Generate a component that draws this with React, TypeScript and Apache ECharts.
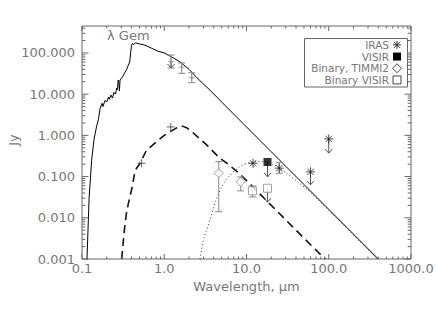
import React, { useEffect, useRef } from 'react';
import * as echarts from 'echarts';

const X_MIN = 0.1;
const X_MAX = 1000;
const Y_MIN = 0.001;
const Y_MAX = 450;

// lambda Gem primary spectrum (solid)
const starWave = [0.115, 0.122, 0.131, 0.14, 0.15, 0.158, 0.166, 0.175, 0.18, 0.19, 0.2, 0.21, 0.215, 0.225, 0.235, 0.245, 0.255, 0.265, 0.27, 0.275, 0.28, 0.285, 0.29, 0.31, 0.33, 0.35, 0.365, 0.38, 0.39, 0.4, 0.41, 0.42, 0.45, 0.5, 0.55, 0.6, 0.7, 0.84, 1.0, 1.3, 1.6, 2.0, 2.5, 3.0, 3.6, 5, 10, 20, 50, 100, 200, 400];
const starFlux = [0.001, 0.03, 0.25, 0.8, 1.6, 2.4, 4.5, 6, 5, 7, 6.5, 8.5, 7.5, 9.5, 8, 11, 10, 14, 13, 22, 20, 12, 22, 26, 33, 40, 50, 60, 100, 150, 170, 160, 175, 165, 160, 150, 130, 110, 100, 75, 58, 40, 25, 17.5, 12.5, 6.4, 1.6, 0.4, 0.064, 0.016, 0.004, 0.001];

// binary companion spectrum (dashed)
const compWave = [0.304, 0.324, 0.345, 0.366, 0.4, 0.44, 0.46, 0.5, 0.53, 0.61, 0.7, 0.81, 1.0, 1.18, 1.4, 1.63, 1.9, 2.16, 3.3, 4.55, 6, 8.3, 12, 20, 40, 90];
const compFlux = [0.001, 0.0042, 0.012, 0.022, 0.047, 0.13, 0.16, 0.2, 0.25, 0.44, 0.55, 0.71, 1.0, 1.23, 1.5, 1.7, 1.5, 1.23, 0.58, 0.3, 0.2, 0.115, 0.056, 0.02, 0.005, 0.001];

// dust emission (dotted)
const dustWave = [2.72, 3.0, 3.6, 4.2, 4.77, 5.5, 6.9, 8.5, 10, 13, 17.6, 22, 30.8, 40, 59, 94, 150, 250, 390];
const dustFlux = [0.001, 0.003, 0.009, 0.025, 0.047, 0.08, 0.13, 0.18, 0.21, 0.23, 0.23, 0.19, 0.12, 0.08, 0.043, 0.017, 0.0068, 0.0024, 0.001];

// photometry
const irasWave = [12, 25, 60, 100];
const irasFlux = [0.21, 0.16, 0.13, 0.82];
const visirWave = [18];
const visirFlux = [0.226];
const timmiWave = [4.6, 8.5];
const timmiFlux = [0.12, 0.074];
const binVisirWave = [11.8, 18];
const binVisirFlux = [0.045, 0.052];
const starPhotWave = [1.21, 1.63, 2.16];
const starPhotFlux = [62, 45, 25];
const compPlusWave = [0.53, 1.2];
const compPlusFlux = [0.21, 1.6];

// error bars: [wavelength, low, high]
const errorBars = [
  [25, 0.12, 0.217],
  [4.6, 0.014, 0.23],
  [8.5, 0.045, 0.098],
  [11.8, 0.032, 0.059],
  [1.21, 43, 89],
  [1.63, 32, 57],
  [2.16, 19, 33],
];
// upper limits: [wavelength, from, to]
const upperLimits = [
  [60, 0.13, 0.063],
  [100, 0.82, 0.37],
  [18, 0.226, 0.098],
  [18, 0.052, 0.024],
  [1.21, 62, 43],
];

const legendLabels = ['IRAS', 'VISIR', 'Binary, TIMMI2', 'Binary VISIR'];

const zip = (a: number[], b: number[]) => a.map((v, i) => [v, b[i]]);

const AXIS_COLOR = '#666';
const TEXT_COLOR = '#777';
const FONT = 'DejaVu Sans';

const ASTERISK = 'path://M5,0L5,10M0,5L10,5M1.5,1.5L8.5,8.5M1.5,8.5L8.5,1.5';

function buildTicks() {
  const xt: number[][] = [];
  for (let e = -1; e <= 3; e++) {
    for (let m = 1; m <= 9; m++) {
      const v = m * Math.pow(10, e);
      if (v > X_MAX * 1.0001) break;
      xt.push([v, Y_MIN, m === 1 ? 1 : 0]);
    }
  }
  const yt: number[][] = [];
  for (let e = -3; e <= 2; e++) {
    for (let m = 1; m <= 9; m++) {
      const v = m * Math.pow(10, e);
      if (v > Y_MAX) break;
      yt.push([X_MIN, v, m === 1 ? 1 : 0]);
    }
  }
  return { xt, yt };
}

export default function App() {
  const ref = useRef<HTMLDivElement>(null);
  useEffect(() => {
    if (!ref.current) return;
    const chart = echarts.init(ref.current, null, { renderer: 'svg' });
    const { xt, yt } = buildTicks();
    const grey = '#888';

    const legendX = 389;
    const symX = 397;
    const legendTop = 39;
    const rowH = 11.7;
    const rowY = legendLabels.map((_, i) => legendTop + rowH * i + rowH / 2);

    const lineSt = { stroke: '#333', lineWidth: 1 };
    const asteriskLines = (cx: number, cy: number) => [
      { type: 'line', z: 102, shape: { x1: cx, y1: cy - 4, x2: cx, y2: cy + 4 }, style: lineSt },
      { type: 'line', z: 102, shape: { x1: cx - 4, y1: cy, x2: cx + 4, y2: cy }, style: lineSt },
      { type: 'line', z: 102, shape: { x1: cx - 3, y1: cy - 3, x2: cx + 3, y2: cy + 3 }, style: lineSt },
      { type: 'line', z: 102, shape: { x1: cx - 3, y1: cy + 3, x2: cx + 3, y2: cy - 3 }, style: lineSt },
    ];

    const option: any = {
      animation: false,
      backgroundColor: '#fff',
      grid: { left: 82, top: 26, width: 329, height: 233, show: true, borderColor: AXIS_COLOR, borderWidth: 1, backgroundColor: 'transparent', outerBoundsMode: 'none', containLabel: false },
      xAxis: {
        type: 'log', logBase: 10, min: X_MIN, max: X_MAX, interval: 1,
        axisLine: { show: false }, axisTick: { show: false }, splitLine: { show: false }, minorTick: { show: false },
        axisLabel: { color: TEXT_COLOR, fontFamily: FONT, fontSize: 13, margin: 3, showMinLabel: true, showMaxLabel: true,
          formatter: (v: number) => v.toFixed(1) },
        name: 'Wavelength, μm', nameLocation: 'middle', nameGap: 14,
        nameTextStyle: { color: TEXT_COLOR, fontFamily: FONT, fontSize: 13 },
      },
      yAxis: {
        type: 'log', logBase: 10, min: Y_MIN, max: Y_MAX, interval: 1,
        axisLine: { show: false }, axisTick: { show: false }, splitLine: { show: false },
        axisLabel: { color: TEXT_COLOR, fontFamily: FONT, fontSize: 13, margin: 7, showMaxLabel: false,
          formatter: (v: number) => {
            const l = Math.log10(v);
            return Math.abs(l - Math.round(l)) < 1e-6 ? v.toFixed(3) : '';
          } },
      },
      graphic: [
        { type: 'text', x: 13, y: 140, rotation: Math.PI / 2,
          style: { text: 'Jy', fill: TEXT_COLOR, font: `13px ${FONT}`, align: 'center', verticalAlign: 'middle' } },
        { type: 'text', left: 107, top: 29, style: { text: 'λ Gem', fill: TEXT_COLOR, font: `13px ${FONT}` } },
        { type: 'rect', shape: { x: 304.5, y: 38.5, width: 103, height: 48.5 }, style: { fill: '#fff', stroke: AXIS_COLOR, lineWidth: 1 }, z: 100 },
        {
          type: 'text', x: legendX, y: legendTop, z: 101,
          style: { text: legendLabels.join('\n'), fill: TEXT_COLOR, font: `10.5px ${FONT}`, lineHeight: rowH, align: 'right', verticalAlign: 'top' },
        },
        ...asteriskLines(symX, rowY[0]),
        { type: 'rect', z: 101, shape: { x: symX - 4, y: rowY[1] - 4, width: 8, height: 8 }, style: { fill: '#000' } },
        { type: 'polygon', z: 101, shape: { points: [[symX, rowY[2] - 4.5], [symX + 4.5, rowY[2]], [symX, rowY[2] + 4.5], [symX - 4.5, rowY[2]]] }, style: { fill: 'none', stroke: '#444', lineWidth: 1 } },
        { type: 'rect', z: 101, shape: { x: symX - 4, y: rowY[3] - 4, width: 8, height: 8 }, style: { fill: 'none', stroke: '#444', lineWidth: 1 } },
      ],
      series: [
        {
          type: 'line', data: zip(starWave, starFlux), showSymbol: false, symbol: 'none',
          lineStyle: { color: '#000', width: 1 }, z: 3,
        },
        {
          type: 'line', data: zip(compWave, compFlux), showSymbol: false, symbol: 'none',
          lineStyle: { color: '#111', width: 1.6, type: [8, 5] }, z: 3,
        },
        {
          type: 'line', data: zip(dustWave, dustFlux), showSymbol: false, symbol: 'none',
          lineStyle: { color: '#333', width: 1, type: [1, 2.5] }, z: 3,
        },
        {
          type: 'custom', data: errorBars, encode: { x: 0, y: 1 }, z: 4, clip: false,
          renderItem: (params: any, api: any) => {
            const x = api.value(0);
            const a = api.coord([x, api.value(1)]);
            const b = api.coord([x, api.value(2)]);
            const st = { stroke: grey, lineWidth: 1 };
            const w = 3.5;
            return {
              type: 'group', children: [
                { type: 'line', shape: { x1: a[0], y1: a[1], x2: b[0], y2: b[1] }, style: st },
                { type: 'line', shape: { x1: a[0] - w, y1: a[1], x2: a[0] + w, y2: a[1] }, style: st },
                { type: 'line', shape: { x1: b[0] - w, y1: b[1], x2: b[0] + w, y2: b[1] }, style: st },
              ],
            };
          },
        },
        {
          type: 'custom', data: upperLimits, encode: { x: 0, y: 1 }, z: 4, clip: false,
          renderItem: (params: any, api: any) => {
            const x = api.value(0);
            const a = api.coord([x, api.value(1)]);
            const b = api.coord([x, api.value(2)]);
            const st = { stroke: '#555', lineWidth: 1 };
            return {
              type: 'group', children: [
                { type: 'line', shape: { x1: a[0], y1: a[1], x2: b[0], y2: b[1] }, style: st },
                { type: 'polyline', shape: { points: [[b[0] - 3.5, b[1] - 4], [b[0], b[1]], [b[0] + 3.5, b[1] - 4]] }, style: { ...st, fill: 'none' } },
              ],
            };
          },
        },
        {
          name: 'IRAS', type: 'scatter', data: zip(irasWave, irasFlux), symbol: ASTERISK, symbolSize: 9, z: 5,
          itemStyle: { color: 'transparent', borderColor: '#222', borderWidth: 1 },
        },
        {
          name: 'VISIR', type: 'scatter', data: zip(visirWave, visirFlux), symbol: 'rect', symbolSize: 8, z: 5,
          itemStyle: { color: '#000' },
        },
        {
          name: 'Binary, TIMMI2', type: 'scatter', data: zip(timmiWave, timmiFlux), symbol: 'diamond', symbolSize: 9, z: 5,
          itemStyle: { color: '#fff', borderColor: grey, borderWidth: 1 },
        },
        {
          name: 'Binary VISIR', type: 'scatter', data: zip(binVisirWave, binVisirFlux), symbol: 'rect', symbolSize: 8, z: 5,
          itemStyle: { color: '#fff', borderColor: grey, borderWidth: 1 },
        },
        {
          type: 'scatter', data: zip(starPhotWave, starPhotFlux), symbol: 'path://M0,5L10,5M5,0L5,10', symbolSize: 6, z: 5,
          itemStyle: { color: 'transparent', borderColor: grey, borderWidth: 1 },
        },
        {
          type: 'scatter', data: zip(compPlusWave, compPlusFlux), symbol: 'path://M0,5L10,5M5,0L5,10', symbolSize: 8, z: 5,
          itemStyle: { color: 'transparent', borderColor: '#444', borderWidth: 1 },
        },
        {
          type: 'custom', data: xt, encode: { x: 0, y: 1 }, z: 6, clip: false, silent: true,
          renderItem: (params: any, api: any) => {
            const v = api.value(0);
            const len = api.value(2) ? 5 : 2.5;
            const b = api.coord([v, Y_MIN]);
            const t = api.coord([v, Y_MAX]);
            const st = { stroke: AXIS_COLOR, lineWidth: 1 };
            return {
              type: 'group', children: [
                { type: 'line', shape: { x1: b[0], y1: b[1], x2: b[0], y2: b[1] - len }, style: st },
                { type: 'line', shape: { x1: t[0], y1: t[1], x2: t[0], y2: t[1] + len }, style: st },
              ],
            };
          },
        },
        {
          type: 'custom', data: yt, encode: { x: 0, y: 1 }, z: 6, clip: false, silent: true,
          renderItem: (params: any, api: any) => {
            const v = api.value(1);
            const len = api.value(2) ? 6.5 : 3.3;
            const l = api.coord([X_MIN, v]);
            const r = api.coord([X_MAX, v]);
            const st = { stroke: AXIS_COLOR, lineWidth: 1 };
            return {
              type: 'group', children: [
                { type: 'line', shape: { x1: l[0], y1: l[1], x2: l[0] + len, y2: l[1] }, style: st },
                { type: 'line', shape: { x1: r[0], y1: r[1], x2: r[0] - len, y2: r[1] }, style: st },
              ],
            };
          },
        },
      ],
    };
    chart.setOption(option);
    return () => chart.dispose();
  }, []);
  return <div ref={ref} style={{ position: 'absolute', left: 0, top: 0, width: 436, height: 312 }} />;
}
